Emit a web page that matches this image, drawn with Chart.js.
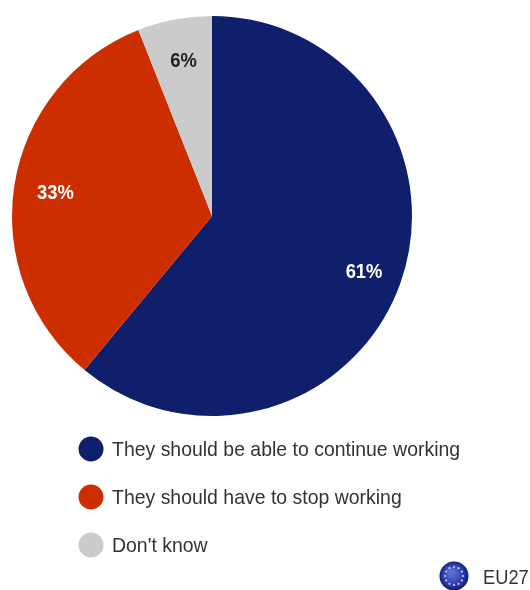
<!DOCTYPE html>
<html><head><meta charset="utf-8">
<style>html,body{margin:0;padding:0;background:#fff}#w{width:530px;height:590px;position:relative}</style>
<script src="https://cdn.jsdelivr.net/npm/chart.js@4"></script>
</head><body><div id="w"><canvas id="c" width="530" height="590"></canvas></div>
<script>
const categories = ["They should be able to continue working","They should have to stop working","Don't know"];
const values = [61,33,6];
const sliceColors = ["#101f6c","#cc2e00","#cbcbcb"];
const labelColors = ["#ffffff","#ffffff","#222222"];
const scopeLabel = "EU27";

const overlay = {
  id:'overlay',
  afterDatasetsDraw(chart){
    const ctx = chart.ctx, arcs = chart.getDatasetMeta(0).data;
    ctx.save();
    ctx.textBaseline='middle'; ctx.textAlign='center';
    arcs.forEach((arc,i)=>{
      const {x,y,outerRadius,startAngle,endAngle}=arc.getProps(['x','y','outerRadius','startAngle','endAngle'],true);
      const m=(startAngle+endAngle)/2, r=outerRadius*0.8;
      ctx.font='bold 20px "Liberation Sans"';
      ctx.fillStyle=labelColors[i];
      ctx.save();
      ctx.translate(x+Math.cos(m)*r+1.5,y+Math.sin(m)*r+2.5);
      ctx.scale(0.92,1);
      ctx.fillText(values[i]+'%',0,0);
      ctx.restore();
    });
    ctx.textAlign='left';
    categories.forEach((t,i)=>{
      const y=449+i*48;
      ctx.beginPath();ctx.arc(91,y,12.5,0,Math.PI*2);ctx.fillStyle=sliceColors[i];ctx.fill();
      ctx.font='21px "Liberation Sans"';
      ctx.fillStyle='#333333';
      ctx.save();ctx.translate(112,y+1);ctx.scale(0.926,1);ctx.fillText(t,0,0);ctx.restore();
    });
    // EU badge
    const bx=454,by=576,br=14.5;
    const g=ctx.createRadialGradient(bx-3,by-4,2,bx,by,br);
    g.addColorStop(0,'#5a6fd8');g.addColorStop(.7,'#2a3aa8');g.addColorStop(1,'#141c6c');
    ctx.beginPath();ctx.arc(bx,by,br,0,Math.PI*2);ctx.fillStyle=g;ctx.fill();
    ctx.fillStyle='#c9d0ee';
    for(let k=0;k<12;k++){const a=k*Math.PI/6;ctx.beginPath();ctx.arc(bx+Math.cos(a)*9,by+Math.sin(a)*9,1.1,0,Math.PI*2);ctx.fill();}
    ctx.font='21px "Liberation Sans"';ctx.fillStyle='#333333';
    ctx.save();ctx.translate(483,578);ctx.scale(0.87,1);ctx.fillText(scopeLabel,0,0);ctx.restore();
    ctx.restore();
  }
};
new Chart(document.getElementById('c'),{
  type:'pie',
  data:{labels:categories,datasets:[{data:values,backgroundColor:sliceColors,borderWidth:0}]},
  options:{responsive:false,animation:false,
    layout:{padding:{left:12,top:16,right:118,bottom:174}},
    plugins:{legend:{display:false},tooltip:{enabled:false}}},
  plugins:[overlay]
});
</script></body></html>
